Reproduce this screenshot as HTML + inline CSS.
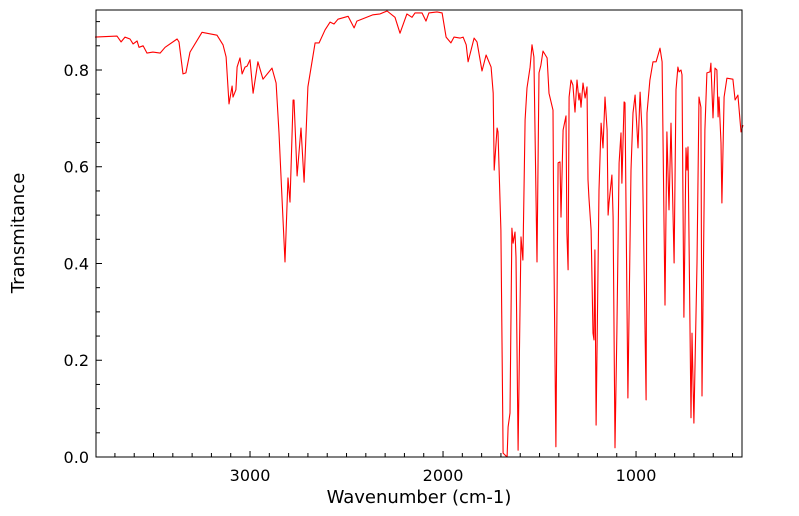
<!DOCTYPE html>
<html><head><meta charset="utf-8"><style>
body{margin:0;background:#fff}
svg{display:block;font-family:"DejaVu Sans","Liberation Sans",sans-serif}
</style></head><body>
<svg id="chart" width="799" height="516" viewBox="0 0 799 516" xmlns="http://www.w3.org/2000/svg">
<g id="ticks"></g>
<g id="labels"></g>
<path id="spectrum" fill="none" stroke="#ff0000" stroke-width="1.1" stroke-linejoin="round"/>
<rect x="96" y="10" width="646" height="447" fill="none" stroke="#000" stroke-width="1"/>
<text x="419" y="503" font-size="18" text-anchor="middle">Wavenumber (cm-1)</text>
<text transform="translate(24,233) rotate(-90)" font-size="18" text-anchor="middle">Transmitance</text>
</svg>
<script>
const wavenumbers=[3803,3689,3668,3648,3622,3606,3585,3575,3554,3534,3503,3466,3440,3378,3368,3347,3332,3311,3249,3171,3140,3124,3109,3093,3088,3073,3067,3052,3041,3026,3015,3000,2984,2959,2933,2886,2865,2850,2834,2819,2803,2793,2777,2772,2756,2736,2720,2700,2663,2642,2611,2585,2565,2544,2492,2461,2446,2363,2326,2290,2249,2223,2187,2161,2145,2109,2088,2073,2031,2005,1984,1959,1943,1912,1896,1880,1870,1839,1824,1798,1777,1751,1740,1735,1720,1715,1705,1700,1689,1668,1663,1653,1643,1637,1627,1622,1611,1596,1586,1575,1565,1549,1539,1529,1518,1513,1503,1493,1482,1461,1451,1430,1425,1415,1404,1394,1389,1378,1363,1358,1352,1347,1337,1327,1316,1306,1296,1291,1285,1275,1264,1254,1249,1244,1233,1223,1218,1213,1207,1192,1181,1171,1161,1150,1145,1140,1125,1119,1109,1099,1088,1078,1073,1062,1057,1042,1026,1016,1005,990,979,969,948,943,928,912,896,876,865,850,840,829,819,803,793,783,777,767,762,752,741,736,731,715,710,700,684,674,664,658,643,633,617,612,601,591,581,575,570,560,555,544,529,498,487,472,456,446];
const transmittance=[.868,.870,.858,.868,.864,.854,.860,.847,.850,.835,.837,.835,.847,.864,.858,.792,.794,.837,.878,.872,.852,.827,.730,.767,.744,.759,.806,.825,.792,.806,.808,.821,.752,.817,.781,.804,.773,.670,.531,.403,.577,.527,.738,.738,.581,.680,.568,.765,.856,.856,.883,.899,.895,.905,.911,.887,.901,.914,.916,.922,.909,.876,.916,.909,.918,.918,.901,.918,.920,.918,.868,.856,.868,.866,.868,.852,.817,.866,.858,.798,.831,.806,.752,.593,.680,.672,.531,.469,.008,0,.062,.091,.473,.442,.465,.413,.014,.455,.407,.697,.763,.806,.852,.827,.525,.403,.794,.810,.839,.825,.752,.717,.401,.021,.608,.610,.496,.676,.705,.463,.387,.744,.779,.769,.713,.779,.738,.752,.723,.773,.742,.765,.573,.537,.469,.256,.242,.428,.066,.552,.690,.639,.744,.676,.500,.525,.583,.496,.019,.262,.608,.670,.566,.734,.732,.122,.593,.711,.748,.639,.754,.676,.118,.711,.779,.817,.817,.845,.817,.314,.672,.511,.690,.401,.759,.806,.796,.800,.790,.289,.639,.593,.641,.081,.256,.070,.401,.744,.723,.126,.676,.794,.796,.814,.701,.804,.800,.703,.744,.649,.525,.744,.783,.781,.738,.748,.672,.686];
const xTickValues=[3000,2000,1000];
const xTickLabels=["3000","2000","1000"];
const yTickValues=[0,0.2,0.4,0.6,0.8];
const yTickLabels=["0.0","0.2","0.4","0.6","0.8"];
const X0=96,X1=742,Y0=457,Y1=10,WMAX=3798,WMIN=451,TMAX=0.924;
function xs(w){return X0+(WMAX-w)/(WMAX-WMIN)*(X1-X0);}
function ys(t){return Y0-t/TMAX*(Y0-Y1);}
const NS="http://www.w3.org/2000/svg";
let d="";
for(let i=0;i<wavenumbers.length;i++){d+=(i?"L":"M")+xs(wavenumbers[i]).toFixed(1)+","+ys(transmittance[i]).toFixed(1);}
document.getElementById("spectrum").setAttribute("d",d);
const tg=document.getElementById("ticks"),lg=document.getElementById("labels");
function line(x1,y1,x2,y2){const l=document.createElementNS(NS,"line");l.setAttribute("x1",x1);l.setAttribute("y1",y1);l.setAttribute("x2",x2);l.setAttribute("y2",y2);l.setAttribute("stroke","#000");l.setAttribute("stroke-width","1");


tg.appendChild(l);}
for(let w=3700;w>=500;w-=100){const x=xs(w);const major=w%1000===0;line(x,Y0,x,Y0-(major?6:4));}
for(let t=0;t<=0.9001;t+=0.05){const y=ys(t);const major=Math.abs(t*5-Math.round(t*5))<1e-6;line(X0,y,X0+(major?6:4),y);}
function txt(x,y,s,anchor){const e=document.createElementNS(NS,"text");e.setAttribute("x",x);e.setAttribute("y",y);e.setAttribute("font-size","16");e.setAttribute("text-anchor",anchor);e.textContent=s;


lg.appendChild(e);}
xTickValues.forEach((v,i)=>txt(xs(v),481,xTickLabels[i],"middle"));
yTickValues.forEach((v,i)=>txt(89,ys(v)+6,yTickLabels[i],"end"));
</script>
</body></html>
